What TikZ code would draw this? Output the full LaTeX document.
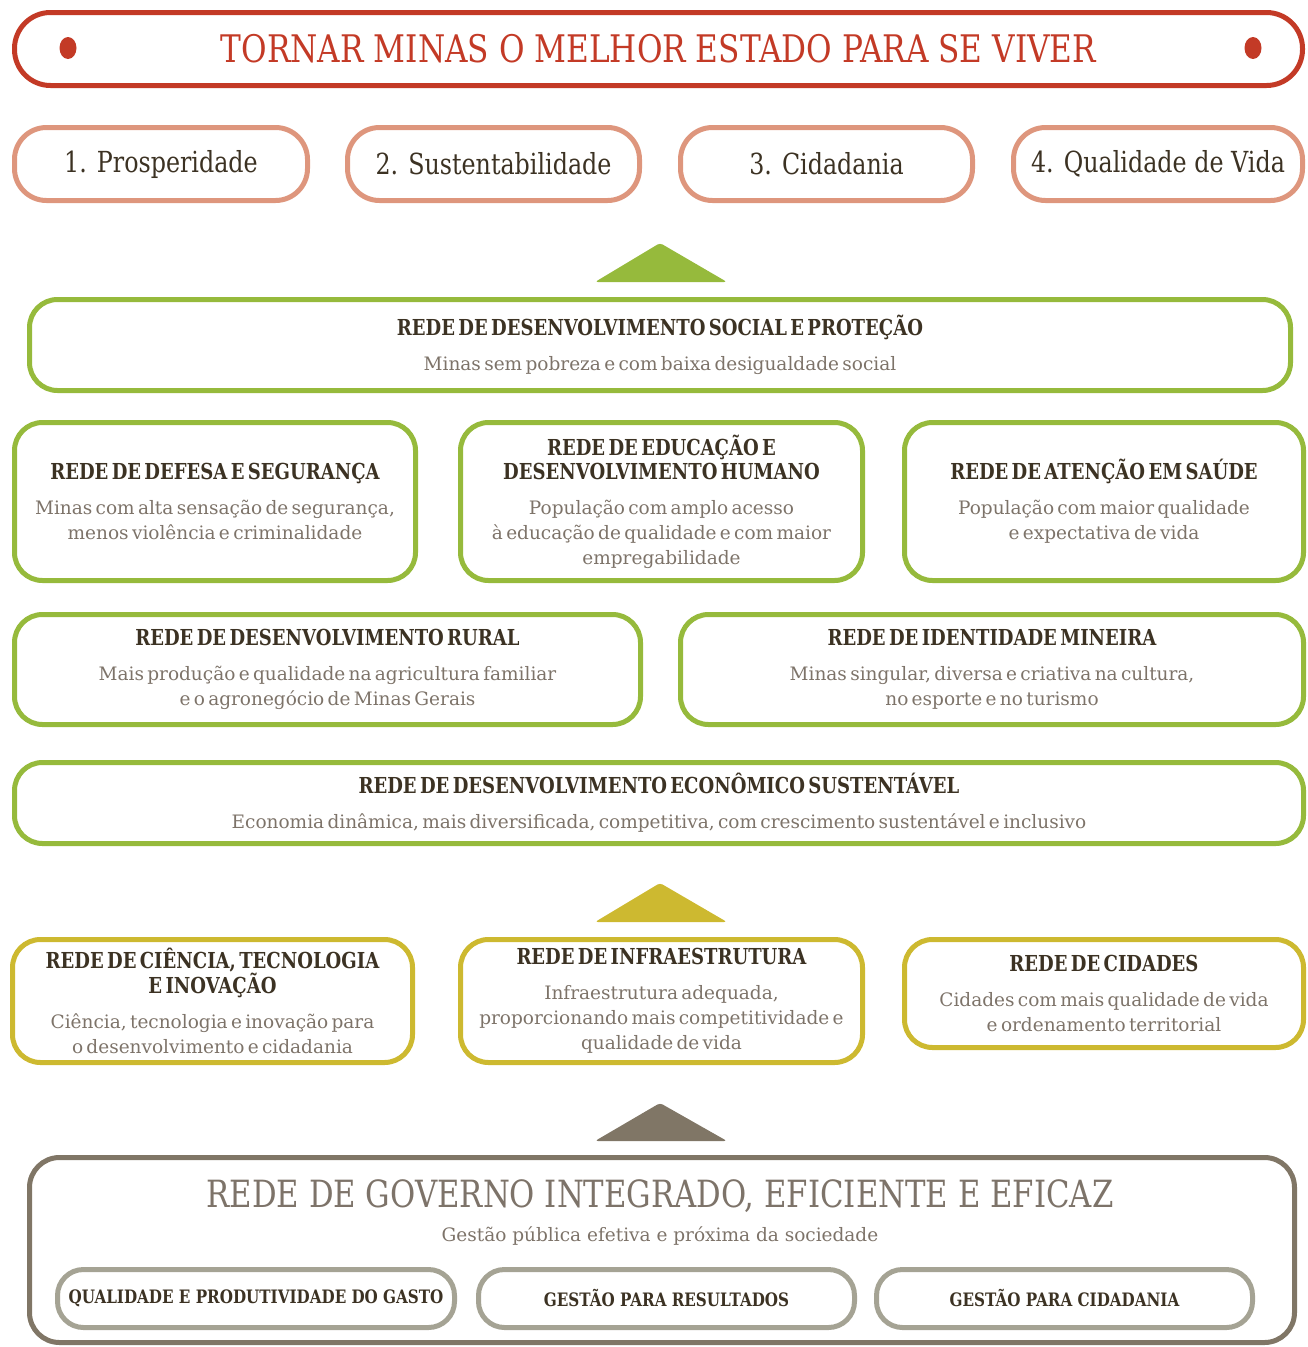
\documentclass[tikz,border=0pt]{standalone}
\usepackage{fontspec}
\setmainfont{DejaVu Serif}
\newfontfamily\hfont{DejaVu Serif}[FakeStretch=0.82]
\newfontfamily\sfont{DejaVu Serif}
\definecolor{vermelho}{HTML}{C33A26}
\definecolor{salmao}{HTML}{DE967D}
\definecolor{verde}{HTML}{96BA3C}
\definecolor{oliva}{HTML}{CDB930}
\definecolor{marrom}{HTML}{807666}
\definecolor{cinzaclaro}{HTML}{A5A394}
\definecolor{escuro}{HTML}{3C3223}
\definecolor{cinza}{HTML}{7D7369}
\newcommand\rede[2]{{\hfont\bfseries\fontsize{22}{24}\selectfont\color{escuro}#1\par}\vspace{10pt}{\sfont\fontsize{18.5}{25}\selectfont\color{cinza}#2\par}}
\tikzset{
meta/.style={draw=vermelho,line width=5pt,rounded corners=36pt,minimum width=1288pt,minimum height=73pt,text=vermelho,font=\hfont\fontsize{38}{40}\selectfont},
pilar/.style={draw=salmao,line width=5pt,rounded corners=32pt,minimum height=73pt,text=escuro,font=\hfont\fontsize{29}{30}\selectfont},
caixa/.style n args={3}{draw=#1,line width=5pt,rounded corners=28pt,inner sep=0pt,align=center,text width=#2,minimum height=#3},
gasto/.style={draw=cinzaclaro,line width=5pt,rounded corners=26pt,minimum height=58pt,text=escuro,font=\hfont\bfseries\fontsize{18.5}{20}\selectfont}
}
\begin{document}
\begin{tikzpicture}[x=1pt,y=-1pt]
\useasboundingbox (0,0) rectangle (1307,1347);
\node[meta] (meta) at (658.5,49) {TORNAR MINAS O MELHOR ESTADO PARA SE VIVER};
\fill[vermelho] (68,48) circle[x radius=8.5pt,y radius=11pt] (1253,48) circle[x radius=8.5pt,y radius=11pt];
\node[pilar,minimum width=293pt] (p1) at (161,164) {1. Prosperidade};
\node[pilar,minimum width=292pt] (p2) at (493.5,164) {2. Sustentabilidade};
\node[pilar,minimum width=292pt] (p3) at (826.5,164) {3. Cidadania};
\node[pilar,minimum width=289pt] (p4) at (1158,164) {4. Qualidade de Vida};
\fill[verde,rounded corners=3pt] (595,282) -- (660,243) -- (727,282) -- cycle;
\node[caixa={verde}{1261pt}{91pt}] (social) at (660,345) {\rede{REDE DE DESENVOLVIMENTO SOCIAL E PROTEÇÃO}{Minas sem pobreza e com baixa desigualdade social}};
\node[caixa={verde}{401pt}{158pt}] (defesa) at (215,501.5) {\rede{REDE DE DEFESA E SEGURANÇA}{Minas com alta sensação de segurança,\\ menos violência e criminalidade}};
\node[caixa={verde}{402pt}{158pt}] (educacao) at (661.5,501.5) {\rede{REDE DE EDUCAÇÃO E\\ DESENVOLVIMENTO HUMANO}{População com amplo acesso\\ à educação de qualidade e com maior\\ empregabilidade}};
\node[caixa={verde}{399pt}{158pt}] (saude) at (1104,501.5) {\rede{REDE DE ATENÇÃO EM SAÚDE}{População com maior qualidade\\ e expectativa de vida}};
\node[caixa={verde}{626pt}{110pt}] (rural) at (327.5,669.5) {\rede{REDE DE DESENVOLVIMENTO RURAL}{Mais produção e qualidade na agricultura familiar\\ e o agronegócio de Minas Gerais}};
\node[caixa={verde}{623pt}{110pt}] (identidade) at (992,669.5) {\rede{REDE DE IDENTIDADE MINEIRA}{Minas singular, diversa e criativa na cultura,\\ no esporte e no turismo}};
\node[caixa={verde}{1289pt}{81pt}] (economico) at (659,803) {\rede{REDE DE DESENVOLVIMENTO ECONÔMICO SUSTENTÁVEL}{Economia dinâmica, mais diversificada, competitiva, com crescimento sustentável e inclusivo}};
\fill[oliva,rounded corners=3pt] (595,922) -- (660,883) -- (727,922) -- cycle;
\node[caixa={oliva}{400pt}{123pt}] (ciencia) at (212.5,1001) {\rede{REDE DE CIÊNCIA, TECNOLOGIA\\ E INOVAÇÃO}{Ciência, tecnologia e inovação para\\ o desenvolvimento e cidadania}};
\node[caixa={oliva}{402pt}{123pt}] (infra) at (661.5,1001) {\rede{REDE DE INFRAESTRUTURA}{Infraestrutura adequada,\\ proporcionando mais competitividade e\\ qualidade de vida}};
\node[caixa={oliva}{399pt}{108pt}] (cidades) at (1104,993.5) {\rede{REDE DE CIDADES}{Cidades com mais qualidade de vida\\ e ordenamento territorial}};
\fill[marrom,rounded corners=3pt] (595,1141) -- (660,1103) -- (727,1141) -- cycle;
\node[caixa={marrom}{1265pt}{185pt},rounded corners=30pt] (governo) at (662,1250) {};
\node[text=cinza,font=\hfont\fontsize{37.5}{38}\selectfont] (govtitulo) at (660,1196) {REDE DE GOVERNO INTEGRADO, EFICIENTE E EFICAZ};
\node[text=cinza,font=\sfont\fontsize{18.5}{20}\selectfont] (govsub) at (660,1236) {Gestão pública efetiva e próxima da sociedade};
\node[gasto,minimum width=397pt] (g1) at (256,1298.5) {QUALIDADE E PRODUTIVIDADE DO GASTO};
\node[gasto,minimum width=376pt] (g2) at (666.5,1298.5) {GESTÃO PARA RESULTADOS};
\node[gasto,minimum width=376pt] (g3) at (1064.5,1298.5) {GESTÃO PARA CIDADANIA};
\end{tikzpicture}
\end{document}
